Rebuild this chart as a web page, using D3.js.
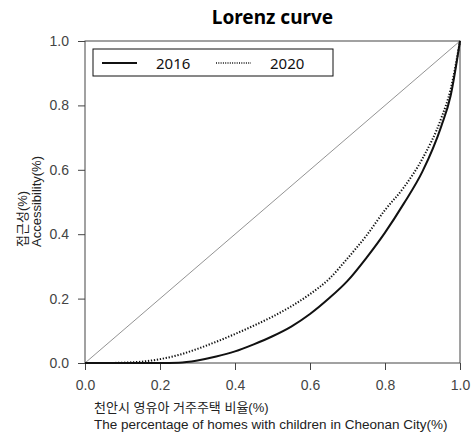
<!DOCTYPE html>
<html>
<head>
<meta charset="utf-8">
<script src="https://cdn.jsdelivr.net/npm/d3@7"></script>
<style>
  body { margin: 0; background: white; }
  svg { display: block; }
</style>
</head>
<body>
<script>
// data
var xs = [0, 0.05, 0.1, 0.15, 0.2, 0.25, 0.3, 0.35, 0.4, 0.45, 0.5, 0.55, 0.6, 0.65, 0.7, 0.75, 0.8, 0.85, 0.9, 0.95, 0.975, 1.0];
var y2016 = [0, 0, 0, 0, 0, 0.001, 0.008, 0.02, 0.036, 0.058, 0.083, 0.113, 0.152, 0.2, 0.255, 0.326, 0.405, 0.495, 0.595, 0.735, 0.83, 1.0];
var y2020 = [0, 0, 0.001, 0.004, 0.012, 0.025, 0.044, 0.066, 0.09, 0.116, 0.144, 0.176, 0.214, 0.26, 0.325, 0.395, 0.475, 0.545, 0.635, 0.76, 0.85, 1.0];
var ticks = [0, 0.2, 0.4, 0.6, 0.8, 1.0];
var years = ["2016", "2020"];
var title = "Lorenz curve";
var xlab = ["천안시 영유아 거주주택 비율(%)", "The percentage of homes with children in Cheonan City(%)"];
var ylab = ["접근성(%)", "Accessibility(%)"];

var width = 473, height = 432;
var margin = {top: 41, right: 13, bottom: 69, left: 85};
var w = width - margin.left - margin.right,
    h = height - margin.top - margin.bottom;

var svg = d3.select("body").append("svg")
    .attr("width", width)
    .attr("height", height);

var g = svg.append("g")
    .attr("transform", "translate(" + margin.left + "," + margin.top + ")");

var x = d3.scaleLinear().domain([0, 1]).range([0, w]);
var y = d3.scaleLinear().domain([0, 1]).range([h, 0]);

var tickFont = "'Liberation Sans', Arial, sans-serif";
var korFont = "'Liberation Sans', 'Noto Sans CJK KR', sans-serif";

// axes
var xAxis = g.append("g")
    .attr("transform", "translate(0," + h + ")")
    .call(d3.axisBottom(x).tickValues(ticks).tickFormat(d3.format(".1f")).tickSizeOuter(0).tickSize(7).tickPadding(10));
var yAxis = g.append("g")
    .call(d3.axisLeft(y).tickValues(ticks).tickFormat(d3.format(".1f")).tickSizeOuter(0).tickSize(7).tickPadding(9));

[xAxis, yAxis].forEach(function(a) {
  a.select(".domain").remove();
  a.selectAll("line").attr("stroke", "#444");
  a.selectAll("text")
    .style("font-family", tickFont)
    .style("font-size", "14px")
    .attr("fill", "#444");
});

// box
g.append("rect")
    .attr("x", 0).attr("y", 0)
    .attr("width", w).attr("height", h)
    .attr("fill", "none")
    .attr("stroke", "#444")
    .attr("stroke-width", 1);

// equality line
g.append("line")
    .attr("x1", x(0)).attr("y1", y(0))
    .attr("x2", x(1)).attr("y2", y(1))
    .attr("stroke", "#777")
    .attr("stroke-width", 0.8);

var line = d3.line()
    .x(function(d) { return x(d[0]); })
    .y(function(d) { return y(d[1]); })
    .curve(d3.curveMonotoneX);

g.append("path")
    .datum(d3.zip(xs, y2020))
    .attr("d", line)
    .attr("fill", "none")
    .attr("stroke", "#111")
    .attr("stroke-width", 2)
    .attr("stroke-dasharray", "1.3,1.7");

g.append("path")
    .datum(d3.zip(xs, y2016))
    .attr("d", line)
    .attr("fill", "none")
    .attr("stroke", "#111")
    .attr("stroke-width", 2);

// legend
var leg = svg.append("g").attr("transform", "translate(93,49)");
leg.append("rect")
    .attr("width", 240).attr("height", 27)
    .attr("fill", "white")
    .attr("stroke", "#111")
    .attr("stroke-width", 1);
years.forEach(function(yr, i) {
  var ox = i * 114;
  leg.append("line")
    .attr("x1", 9 + ox).attr("x2", 44 + ox)
    .attr("y1", 14).attr("y2", 14)
    .attr("stroke", "#111")
    .attr("stroke-width", i == 0 ? 2 : 1.5)
    .attr("stroke-dasharray", i == 0 ? null : "1,1.3");
  leg.append("text")
    .attr("x", 63 + ox).attr("y", 19.5)
    .style("font-family", "'Noto Sans', sans-serif")
    .style("font-size", "15px")
    .attr("fill", "#111")
    .text(yr);
});

// title
svg.append("text")
    .attr("x", margin.left + w / 2)
    .attr("y", 24)
    .attr("text-anchor", "middle")
    .style("font-family", "'Noto Sans', 'Noto Sans CJK KR', sans-serif")
    .style("font-weight", "bold")
    .style("font-size", "19px")
    .attr("fill", "#000")
    .text(title);

// x label
xlab.forEach(function(t, i) {
  svg.append("text")
    .attr("x", 94)
    .attr("y", 412 + i * 17)
    .style("font-family", korFont)
    .style("font-size", i == 0 ? "13px" : "13.5px")
    .attr("fill", "#222")
    .text(t);
});

// y label
ylab.forEach(function(t, i) {
  svg.append("text")
    .attr("transform", "translate(" + (27 + i * 14) + ",247) rotate(-90)")
    .style("font-family", korFont)
    .style("font-size", "13px")
    .attr("fill", "#222")
    .text(t);
});
</script>
</body>
</html>
